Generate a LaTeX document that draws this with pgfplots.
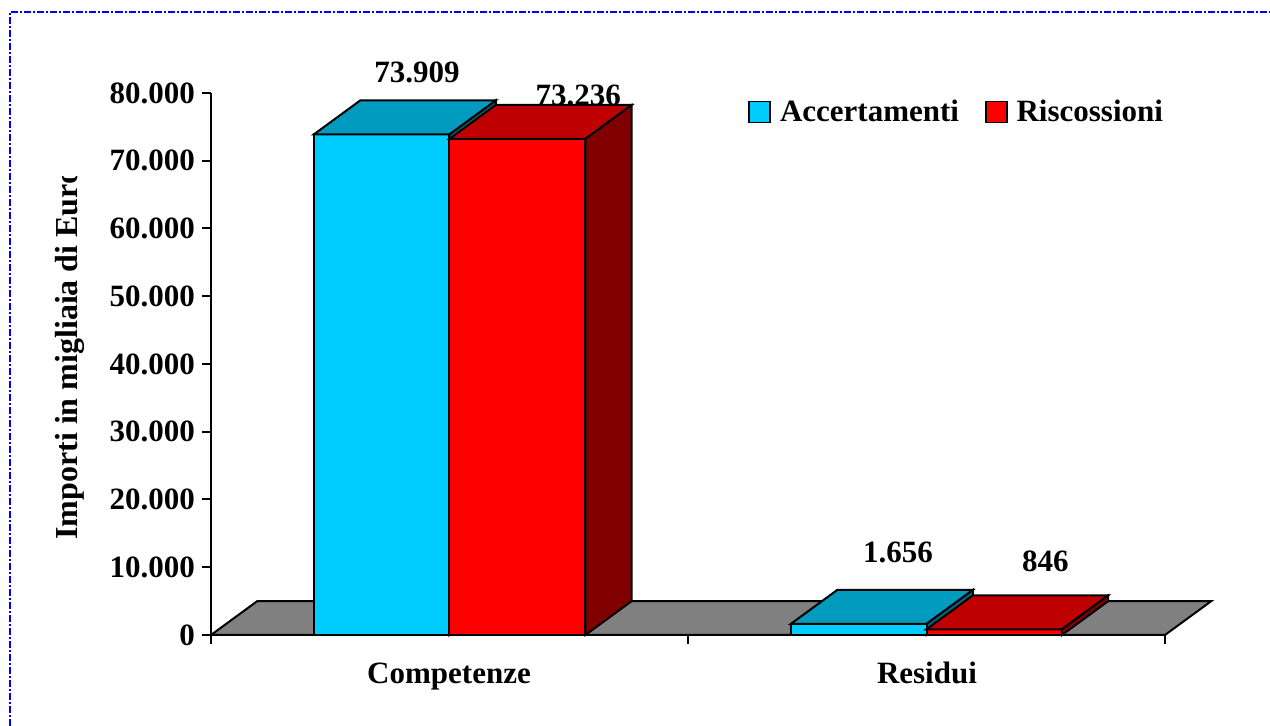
\documentclass[border=0pt]{standalone}
\usepackage{fontspec}
\setmainfont{Liberation Serif}
\usepackage{pgfplots}
\pgfplotsset{compat=1.18}
\definecolor{accF}{RGB}{0,204,255}
\definecolor{accT}{RGB}{0,155,190}
\definecolor{accS}{RGB}{0,102,128}
\definecolor{risF}{RGB}{255,0,0}
\definecolor{risT}{RGB}{190,0,0}
\definecolor{risS}{RGB}{128,0,0}
\definecolor{floorc}{RGB}{128,128,128}
\newcommand{\bfont}{\bfseries\fontsize{15.5}{18}\selectfont}
\begin{document}
\begin{tikzpicture}[x=1pt,y=1pt]
\useasboundingbox (-105.5,-45.5) rectangle (529.5,317.5);
\draw[blue, line width=1pt, dash pattern=on 3.5pt off 1pt on 1pt off 1pt] (-100.5,-45.5) -- (-100.5,311.25) -- (529.5,311.25);
\begin{axis}[
  at={(0,0)}, anchor=south west,
  width=477pt, height=271pt, scale only axis,
  xmin=0, xmax=2, ymin=0, ymax=80000,
  axis lines*=left,
  axis line style={line width=1.2pt},
  ytick={0,10000,20000,30000,40000,50000,60000,70000,80000},
  xtick={0,1,2}, xticklabels={},
  tick align=outside, major tick length=4.5pt,
  tick style={black, line width=1pt},
  scaled y ticks=false,
  yticklabel style={font=\bfont},
  /pgf/number format/fixed,
  /pgf/number format/1000 sep={.},
  /pgf/number format/assume math mode=true,
  clip=false,
  legend image code/.code={\draw[#1, line width=0.8pt] (0pt,-5.25pt) rectangle (10.5pt,5.25pt);},
  legend style={at={(0.5629,0.965)}, anchor=west, draw=none, fill=none,
    legend columns=2, font=\bfont, inner sep=0pt,
    /tikz/every odd column/.append style={column sep=2.5pt},
    /tikz/every even column/.append style={column sep=11pt}},
]
% floor
\addplot[fill=floorc, draw=black, line width=1pt, forget plot] coordinates {(0,0) (2,0) (2.097,5000) (0.097,5000)} -- cycle;
% Competenze - Accertamenti
\addplot[fill=accS, draw=black, line width=1pt, forget plot] coordinates {(0.5,0) (0.597,5000) (0.597,78909) (0.5,73909)} -- cycle;
\addplot[fill=accF, draw=black, line width=1pt, forget plot] coordinates {(0.216,0) (0.5,0) (0.5,73909) (0.216,73909)} -- cycle;
\addplot[fill=accT, draw=black, line width=1pt, forget plot] coordinates {(0.216,73909) (0.5,73909) (0.597,78909) (0.313,78909)} -- cycle;
% Competenze - Riscossioni
\addplot[fill=risF, draw=black, line width=1pt, forget plot] coordinates {(0.5,0) (0.785,0) (0.785,73236) (0.5,73236)} -- cycle;
\addplot[fill=risT, draw=black, line width=1pt, forget plot] coordinates {(0.5,73236) (0.785,73236) (0.882,78236) (0.597,78236)} -- cycle;
\addplot[fill=risS, draw=black, line width=1pt, forget plot] coordinates {(0.785,0) (0.882,5000) (0.882,78236) (0.785,73236)} -- cycle;
% Residui - Accertamenti
\addplot[fill=accS, draw=black, line width=1pt, forget plot] coordinates {(1.5,0) (1.597,5000) (1.597,6656) (1.5,1656)} -- cycle;
\addplot[fill=accF, draw=black, line width=1pt, forget plot] coordinates {(1.216,0) (1.5,0) (1.5,1656) (1.216,1656)} -- cycle;
\addplot[fill=accT, draw=black, line width=1pt, forget plot] coordinates {(1.216,1656) (1.5,1656) (1.597,6656) (1.313,6656)} -- cycle;
% Residui - Riscossioni
\addplot[fill=risF, draw=black, line width=1pt, forget plot] coordinates {(1.5,0) (1.784,0) (1.784,846) (1.5,846)} -- cycle;
\addplot[fill=risT, draw=black, line width=1pt, forget plot] coordinates {(1.5,846) (1.784,846) (1.881,5846) (1.597,5846)} -- cycle;
\addplot[fill=risS, draw=black, line width=1pt, forget plot] coordinates {(1.784,0) (1.881,5000) (1.881,5846) (1.784,846)} -- cycle;
\addlegendimage{fill=accF, draw=black}
\addlegendentry{Accertamenti}
\addlegendimage{fill=risF, draw=black}
\addlegendentry{Riscossioni}
% value labels
\node[font=\bfont] at (axis cs:0.432,83100) {73.909};
\node[font=\bfont] at (axis cs:0.770,79700) {73.236};
\node[font=\bfont] at (axis cs:1.440,12251) {1.656};
\node[font=\bfont] at (axis cs:1.749,10923) {846};
% category labels
\node[font=\bfont, anchor=base, yshift=-24.5pt] at (axis cs:0.499,0) {Competenze};
\node[font=\bfont, anchor=base, yshift=-24.5pt] at (axis cs:1.501,0) {Residui};
\end{axis}
\begin{scope}
\clip (-105,-45) rectangle (-40,229);
\node[font=\bfseries\fontsize{16}{18}\selectfont, rotate=90, anchor=west, inner sep=0pt] at (-70.5,47.5) {Importi in migliaia di Euro};
\end{scope}
\end{tikzpicture}
\end{document}
